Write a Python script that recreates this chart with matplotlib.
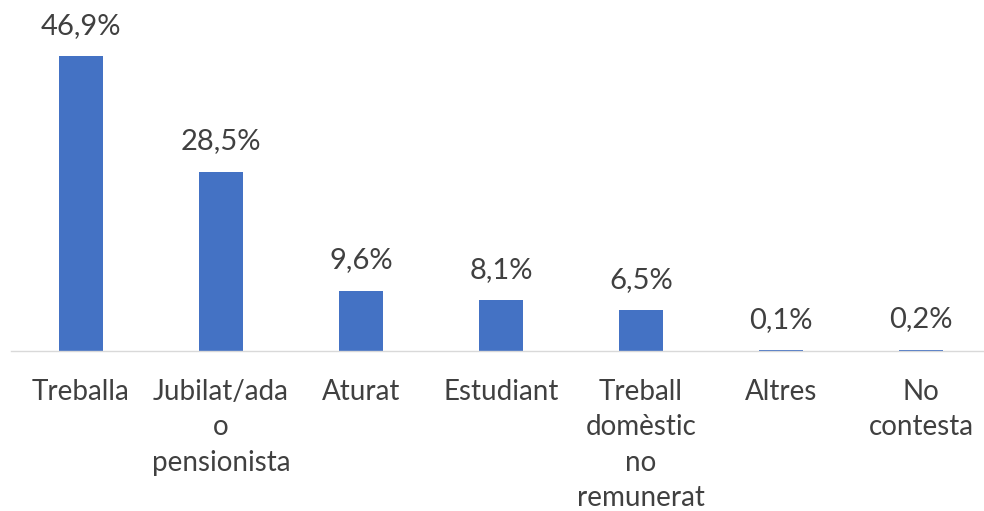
import matplotlib.pyplot as plt

categories = ["Treballa", "Jubilat/ada\no\npensionista", "Aturat", "Estudiant",
              "Treball\ndomèstic\nno\nremunerat", "Altres", "No\ncontesta"]
values = [46.9, 28.5, 9.6, 8.1, 6.5, 0.1, 0.2]
labels = ["46,9%", "28,5%", "9,6%", "8,1%", "6,5%", "0,1%", "0,2%"]

plt.rcParams['font.family'] = ['Lato', 'DejaVu Sans']
text_color = '#404040'

fig = plt.figure(figsize=(9.84, 5.11), dpi=100)
ax = fig.add_axes([11 / 984, 160 / 511, 980 / 984, 314.5 / 511])

x = range(len(categories))
ax.bar(x, values, width=0.315, color='#4472C4')
for i, v in enumerate(values):
    ax.annotate(labels[i], (i, v), xytext=(0, 12.5), textcoords='offset points',
                ha='center', va='bottom', fontsize=21, color=text_color)

ax.set_xlim(-0.5, len(categories) - 0.5)
ax.set_ylim(0, 50)
ax.set_xticks(list(x))
ax.set_xticklabels(categories, fontsize=20, color=text_color, linespacing=1.45)
ax.tick_params(axis='x', length=0, pad=20)
ax.set_yticks([])
for s in ['top', 'right', 'left']:
    ax.spines[s].set_visible(False)
ax.spines['bottom'].set_color('#D9D9D9')
ax.spines['bottom'].set_linewidth(1.0)

fig.savefig('out.png', dpi=100)
